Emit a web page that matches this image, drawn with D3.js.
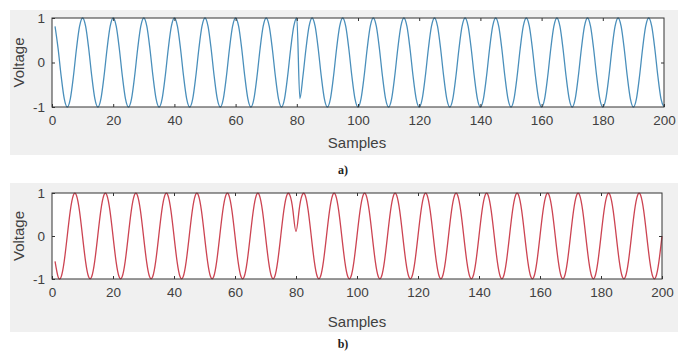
<!DOCTYPE html>
<html>
<head>
<meta charset="utf-8">
<script src="https://cdn.jsdelivr.net/npm/d3@7"></script>
<style>
  body { margin: 0; background: #fff; }
  svg { display: block; }
</style>
</head>
<body>
<div class="chart"></div>
<script>
const width = 686
const height = 353

// sample index 1..200
const samples = d3.range(1, 201)

// panel a) - blue signal, phase flip after sample 80
const voltageA = [
  0.81, 0.31, -0.31, -0.81, -1, -0.81, -0.31, 0.31, 0.81, 1,
  0.81, 0.31, -0.31, -0.81, -1, -0.81, -0.31, 0.31, 0.81, 1,
  0.81, 0.31, -0.31, -0.81, -1, -0.81, -0.31, 0.31, 0.81, 1,
  0.81, 0.31, -0.31, -0.81, -1, -0.81, -0.31, 0.31, 0.81, 1,
  0.81, 0.31, -0.31, -0.81, -1, -0.81, -0.31, 0.31, 0.81, 1,
  0.81, 0.31, -0.31, -0.81, -1, -0.81, -0.31, 0.31, 0.81, 1,
  0.81, 0.31, -0.31, -0.81, -1, -0.81, -0.31, 0.31, 0.81, 1,
  0.81, 0.31, -0.31, -0.81, -1, -0.81, -0.31, 0.31, 0.81, 1,
  -0.81, -0.31, 0.31, 0.81, 1, 0.81, 0.31, -0.31, -0.81, -1,
  -0.81, -0.31, 0.31, 0.81, 1, 0.81, 0.31, -0.31, -0.81, -1,
  -0.81, -0.31, 0.31, 0.81, 1, 0.81, 0.31, -0.31, -0.81, -1,
  -0.81, -0.31, 0.31, 0.81, 1, 0.81, 0.31, -0.31, -0.81, -1,
  -0.81, -0.31, 0.31, 0.81, 1, 0.81, 0.31, -0.31, -0.81, -1,
  -0.81, -0.31, 0.31, 0.81, 1, 0.81, 0.31, -0.31, -0.81, -1,
  -0.81, -0.31, 0.31, 0.81, 1, 0.81, 0.31, -0.31, -0.81, -1,
  -0.81, -0.31, 0.31, 0.81, 1, 0.81, 0.31, -0.31, -0.81, -1,
  -0.81, -0.31, 0.31, 0.81, 1, 0.81, 0.31, -0.31, -0.81, -1,
  -0.81, -0.31, 0.31, 0.81, 1, 0.81, 0.31, -0.31, -0.81, -1,
  -0.81, -0.31, 0.31, 0.81, 1, 0.81, 0.31, -0.31, -0.81, -1,
  -0.81, -0.31, 0.31, 0.81, 1, 0.81, 0.31, -0.31, -0.81, -1
]

// panel b) - red signal, dip at sample 80
const voltageB = [
  -0.59, -0.95, -0.95, -0.59, 0, 0.59, 0.95, 0.95, 0.59, 0,
  -0.59, -0.95, -0.95, -0.59, 0, 0.59, 0.95, 0.95, 0.59, 0,
  -0.59, -0.95, -0.95, -0.59, 0, 0.59, 0.95, 0.95, 0.59, 0,
  -0.59, -0.95, -0.95, -0.59, 0, 0.59, 0.95, 0.95, 0.59, 0,
  -0.59, -0.95, -0.95, -0.59, 0, 0.59, 0.95, 0.95, 0.59, 0,
  -0.59, -0.95, -0.95, -0.59, 0, 0.59, 0.95, 0.95, 0.59, 0,
  -0.59, -0.95, -0.95, -0.59, 0, 0.59, 0.95, 0.95, 0.59, 0,
  -0.59, -0.95, -0.95, -0.59, 0, 0.59, 0.95, 0.95, 0.59, 0.1,
  0.59, 0.95, 0.95, 0.59, 0, -0.59, -0.95, -0.95, -0.59, 0,
  0.59, 0.95, 0.95, 0.59, 0, -0.59, -0.95, -0.95, -0.59, 0,
  0.59, 0.95, 0.95, 0.59, 0, -0.59, -0.95, -0.95, -0.59, 0,
  0.59, 0.95, 0.95, 0.59, 0, -0.59, -0.95, -0.95, -0.59, 0,
  0.59, 0.95, 0.95, 0.59, 0, -0.59, -0.95, -0.95, -0.59, 0,
  0.59, 0.95, 0.95, 0.59, 0, -0.59, -0.95, -0.95, -0.59, 0,
  0.59, 0.95, 0.95, 0.59, 0, -0.59, -0.95, -0.95, -0.59, 0,
  0.59, 0.95, 0.95, 0.59, 0, -0.59, -0.95, -0.95, -0.59, 0,
  0.59, 0.95, 0.95, 0.59, 0, -0.59, -0.95, -0.95, -0.59, 0,
  0.59, 0.95, 0.95, 0.59, 0, -0.59, -0.95, -0.95, -0.59, 0,
  0.59, 0.95, 0.95, 0.59, 0, -0.59, -0.95, -0.95, -0.59, 0,
  0.59, 0.95, 0.95, 0.59, 0, -0.59, -0.95, -0.95, -0.59, 0
]

const xTicks = [0, 20, 40, 60, 80, 100, 120, 140, 160, 180, 200]
const yTicks = [-1, 0, 1]

const svg = d3.select('.chart').append('svg')
    .attr("width", width)
    .attr("height", height)
    .style("font-family", "'Liberation Sans', Arial, sans-serif")

function panel(opts) {
    const g = svg.append("g")

    // grey figure background
    g.append("rect")
        .attr("x", 10).attr("y", opts.bgTop)
        .attr("width", 668).attr("height", opts.bgH)
        .attr("fill", "#f0f0f0")

    const x = d3.scaleLinear().domain([0, 200]).range([52, opts.right])
    const y = d3.scaleLinear().domain([-1, 1]).range([opts.bottom, opts.top])

    g.append("rect")
        .attr("x", x(0)).attr("y", y(1))
        .attr("width", x(200) - x(0)).attr("height", y(-1) - y(1))
        .attr("fill", "#fff")

    const line = d3.line()
        .x((d, i) => x(samples[i]))
        .y(d => y(d))
        .curve(opts.curve)

    g.append("path")
        .datum(opts.values)
        .attr("fill", "none")
        .attr("stroke", opts.color)
        .attr("stroke-width", 1.3)
        .attr("d", line)

    // axes, ticks pointing inward like matlab
    const axisStyle = sel => {
        sel.select(".domain").remove()
        sel.selectAll("line").attr("stroke", "#333")
        sel.selectAll("text").attr("fill", "#404040").attr("font-size", 13.5)
    }
    g.append("g")
        .attr("transform", `translate(0,${y(-1)})`)
        .call(d3.axisBottom(x).tickValues(xTicks).tickSizeInner(-3).tickSizeOuter(0).tickPadding(8))
        .call(axisStyle)
    g.append("g")
        .attr("transform", `translate(0,${y(1)})`)
        .call(d3.axisTop(x).tickValues(xTicks.slice(1, -1)).tickSizeInner(-3).tickSizeOuter(0).tickFormat(""))
        .call(axisStyle)
    g.append("g")
        .attr("transform", `translate(${x(0)},0)`)
        .call(d3.axisLeft(y).tickValues(yTicks).tickFormat(d => String(d)).tickSizeInner(-3).tickSizeOuter(0).tickPadding(7))
        .call(axisStyle)
    g.append("g")
        .attr("transform", `translate(${x(200)},0)`)
        .call(d3.axisRight(y).tickValues([0]).tickSizeInner(-3).tickSizeOuter(0).tickFormat(""))
        .call(axisStyle)

    g.append("rect")
        .attr("x", x(0)).attr("y", y(1))
        .attr("width", x(200) - x(0)).attr("height", y(-1) - y(1))
        .attr("fill", "none")
        .attr("stroke", "#333")
        .attr("stroke-width", 1)

    g.append("text")
        .attr("x", 357).attr("y", opts.xlabelY)
        .attr("text-anchor", "middle")
        .attr("font-size", 15)
        .attr("fill", "#404040")
        .text("Samples")

    g.append("text")
        .attr("transform", `translate(24,${y(0)}) rotate(-90)`)
        .attr("text-anchor", "middle")
        .attr("font-size", 15)
        .attr("fill", "#404040")
        .text("Voltage")

    g.append("text")
        .attr("x", 343).attr("y", opts.captionY)
        .attr("text-anchor", "middle")
        .attr("font-family", "'Liberation Serif', 'Times New Roman', serif")
        .attr("font-weight", "bold")
        .attr("font-size", 12)
        .attr("fill", "#222")
        .text(opts.caption)
}

panel({ values: voltageA, color: "#4a8fbb", curve: d3.curveMonotoneX, bgTop: 10, bgH: 145, top: 18, bottom: 107, right: 664, xlabelY: 148, captionY: 174, caption: "a)" })
panel({ values: voltageB, color: "#cc4452", curve: d3.curveNatural, bgTop: 183, bgH: 149, top: 193, bottom: 279, right: 662, xlabelY: 327, captionY: 348, caption: "b)" })
</script>
</body>
</html>
